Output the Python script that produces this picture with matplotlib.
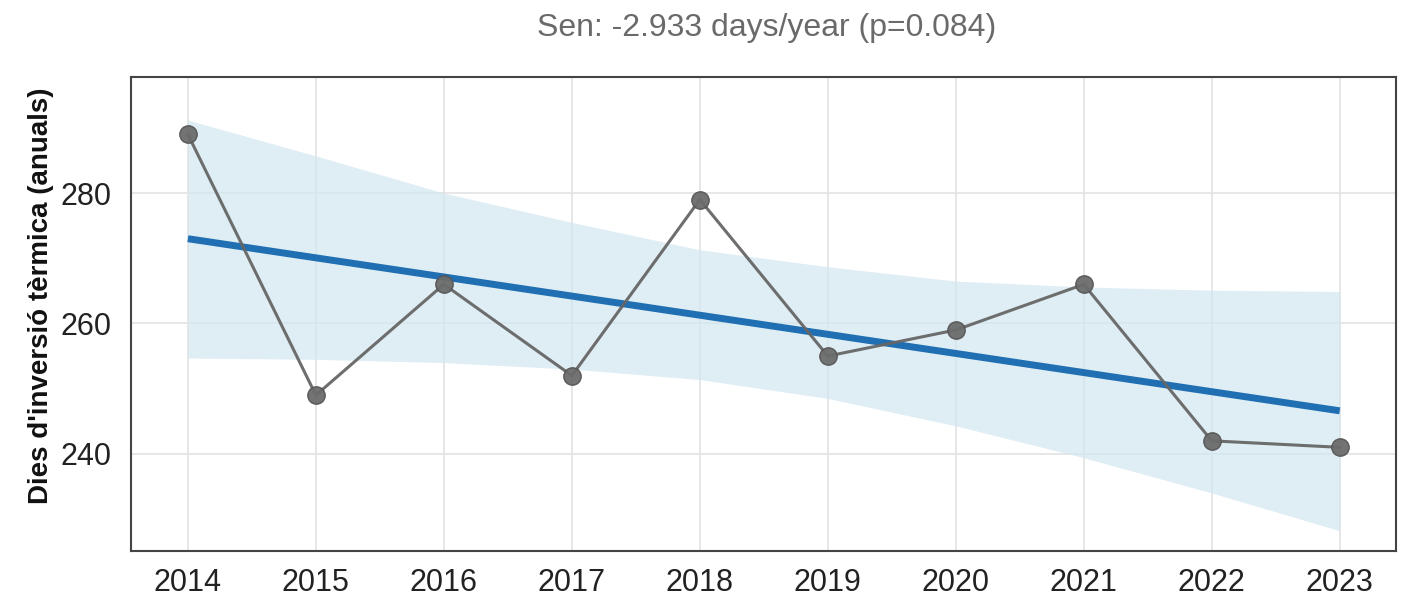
import matplotlib
matplotlib.use("Agg")
import matplotlib.pyplot as plt

# annual data
years = [2014, 2015, 2016, 2017, 2018, 2019, 2020, 2021, 2022, 2023]
days = [289, 249, 266, 252, 279, 255, 259, 266, 242, 241]

# Sen trend line (ends) and confidence band
trend_years = [2014, 2023]
trend_vals = [273.0, 246.6]
band_upper = [291.2, 285.7, 280.0, 275.5, 271.3, 268.7, 266.5, 265.6, 265.1, 264.9]
band_lower = [254.7, 254.5, 254.0, 253.0, 251.4, 248.5, 244.3, 239.4, 234.0, 228.2]

title = "Sen: -2.933 days/year (p=0.084)"
ylabel = "Dies d'inversió tèrmica (anuals)"

plt.rcParams["font.family"] = ["Liberation Sans", "DejaVu Sans"]

fig = plt.figure(figsize=(14.11, 5.98), dpi=100)
ax = fig.add_axes([0.0928, 0.0786, 0.8966, 0.7926])

ax.fill_between(years, band_lower, band_upper, color="#d2e6f0", alpha=0.7,
                linewidth=0, zorder=1)
ax.plot(trend_years, trend_vals, color="#1f6fb2", linewidth=5, zorder=3,
        solid_capstyle="butt")
ax.plot(years, days, color="#666666", linewidth=2.2, marker="o",
        markersize=12.5, markerfacecolor="#6b6b6b", markeredgecolor="#555555",
        markeredgewidth=1, alpha=0.95, zorder=4)

ax.set_xlim(2013.555, 2023.44)
ax.set_ylim(225.1, 297.8)
ax.set_xticks(years)
ax.set_yticks([240, 260, 280])
ax.grid(True, color="#e3e3e3", linewidth=1.2, zorder=0)
ax.set_axisbelow(True)

for s in ax.spines.values():
    s.set_color("#444444")
    s.set_linewidth(1.5)

ax.tick_params(length=0, labelsize=22, colors="#222222")
ax.tick_params(axis="x", pad=12)
ax.tick_params(axis="y", pad=14)

fig.text(0.543, 0.953, title, ha="center", va="center", fontsize=23,
         color="#6a6a6a")
fig.text(0.029, 0.505, ylabel, rotation=90, ha="center", va="center",
         fontsize=20, fontweight="bold", color="#111111")

fig.savefig("out.png", dpi=100)
